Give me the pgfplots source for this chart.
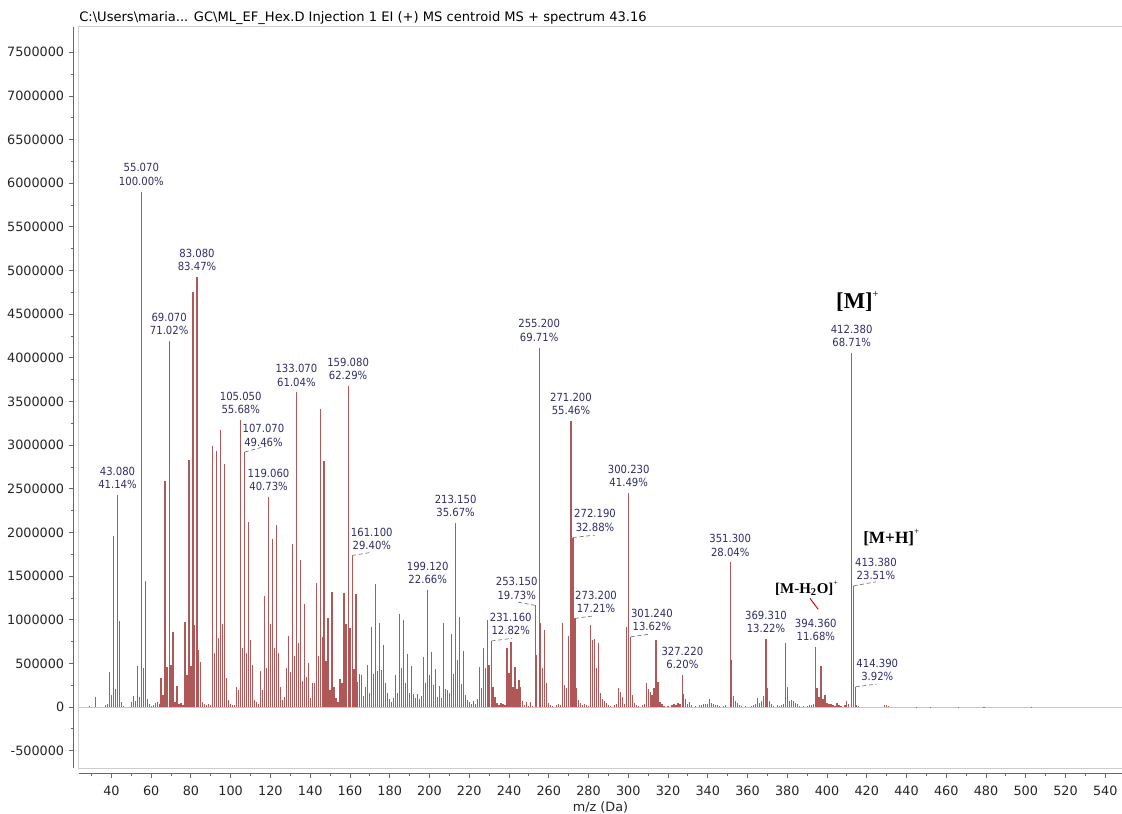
\documentclass[border=0pt]{standalone}
\usepackage{pgfplots}
\usepackage{pgfplotstable}
\pgfplotsset{compat=1.18}
\usepackage{fontspec}
\setmainfont{DejaVu Sans}
\newfontfamily\condfont{DejaVu Sans Condensed}
\newfontfamily\annfont{Liberation Serif}

\definecolor{peak}{RGB}{176,88,88}
\definecolor{lblc}{RGB}{46,46,108}
\definecolor{axisgray}{RGB}{105,105,105}
\definecolor{boxgray}{RGB}{205,205,205}
\definecolor{leader}{RGB}{110,110,140}

% centroid spectrum: m/z and abundance
\pgfplotstableread{
mz ab
29 15000
32 118000
37 20000
38 30000
39 405000
40 140000
41 1955000
42 210000
43.08 2429000
44 983000
45 55000
46 15000
50 60000
51 130000
52 70000
53 470000
54 120000
55.07 5905000
56 444000
57 1446000
58 90000
59 30000
60 15000
61 20000
62 50000
63 60000
64 40000
65 330000
66 140000
67 2586000
68 460000
69.07 4194000
70 482000
71 860000
72 60000
73 245000
74 40000
75 45000
76 20000
77 975000
78 363000
79 2831000
80 470000
81 4750000
82 940000
83.08 4929000
84 654000
85 520000
86 60000
87 30000
88 20000
89 40000
90 20000
91 2986000
92 616000
93 2930000
94 792000
95 3168000
96 949000
97 2789000
98 337000
99 80000
100 30000
101 25000
102 20000
103 233000
104 195000
105.05 3288000
106 673000
107.07 2921000
108 616000
109 2120000
110 770000
111 482000
112 80000
113 60000
114 30000
115 417000
116 195000
117 1274000
118 450000
119.06 2405000
120 956000
121 1924000
122 673000
123 2089000
124 616000
125 233000
126 80000
127 118000
128 444000
129 815000
130 405000
131 1863000
132 590000
133.07 3604000
134 738000
135 1683000
136 302000
137 1178000
138 348000
139 509000
140 107000
141 280000
142 280000
143 1419000
144 585000
145 3409000
146 807000
147 2816000
148 524000
149 1025000
150 195000
151 1316000
152 226000
153 100000
154 60000
155 318000
156 272000
157 1301000
158 953000
159.08 3678000
160 903000
161.1 1736000
162 440000
163 1297000
164 291000
165 379000
166 363000
167 126000
168 226000
169 482000
170 165000
171 922000
172 375000
173 1412000
174 413000
175 968000
176 425000
177 708000
178 275000
179 157000
180 92000
181 61000
182 100000
183 363000
184 165000
185 1067000
186 444000
187 999000
188 272000
189 612000
190 157000
191 470000
192 145000
193 100000
194 145000
195 88000
196 126000
197 570000
198 272000
199.12 1338000
200 367000
201 627000
202 253000
203 432000
204 118000
205 245000
206 107000
207 960000
208 210000
209 195000
210 157000
211 834000
212 379000
213.15 2106000
214 543000
215 1033000
216 268000
217 643000
218 141000
219 80000
220 61000
221 34000
222 69000
223 30000
224 88000
225 455000
226 222000
227 677000
228 444000
229 1002000
230 482000
231.16 757000
232 226000
233 118000
234 50000
235 20000
236 42000
237 34000
238 20000
239 673000
240 394000
241 740000
242 233000
243 463000
244 210000
245 310000
246 226000
247 69000
248 20000
249 54000
250 15000
251 54000
252 15000
253.15 1165000
254 593000
255.2 4116000
256 960000
257 450000
258 884000
259 280000
260 50000
261 20000
262 15000
264 20000
265 40000
266 20000
267 967000
268 252000
269 214000
270 810000
271.2 3275000
272.19 1942000
273.2 1016000
274 214000
275 80000
276 50000
277 20000
278 30000
279 20000
280 15000
281 937000
282 768000
283 776000
284 443000
285 730000
286 157000
287 88000
288 69000
289 42000
290 20000
291 15000
293 20000
294 30000
295 214000
296 176000
297 118000
298 40000
299 914000
300.23 2450000
301.24 804000
302 138000
303 50000
304 20000
305 15000
307 20000
308 30000
309 271000
310 203000
311 176000
312 138000
313 214000
314 768000
315 290000
316 60000
317 30000
318 15000
320 15000
322 20000
323 34000
324 20000
325 42000
326 30000
327.22 366000
328 149000
329 96000
330 40000
331 57000
332 20000
334 15000
336 20000
337 25000
338 30000
339 35000
340 40000
341 88000
342 42000
343 34000
344 25000
345 20000
346 15000
348 15000
349 20000
351.3 1656000
352 539000
353 126000
354 73000
355 42000
356 20000
357 15000
359 10000
362 15000
363 20000
364 40000
365 99000
366 50000
367 73000
368 126000
369.31 781000
370 214000
371 73000
372 30000
373 15000
375 20000
376 15000
377 20000
378 30000
379 738000
380 233000
381 73000
382 80000
383 73000
384 42000
385 30000
386 15000
388 15000
390 15000
391 20000
392 25000
393 40000
394.36 690000
395 214000
396 118000
397 470000
398 88000
399 134000
400 50000
401 30000
402 34000
403 20000
404 15000
405 42000
406 20000
407 10000
409 20000
410 73000
411 30000
412.38 4057000
413.38 1388000
414.39 231000
415 23000
416 10000
429 20000
430 18000
431 10000
445 5000
452 6000
466 5000
479 5000
503 6000
}\spec

\tikzset{
  plbl/.style={anchor=south, inner sep=0pt, yshift=4.5pt, align=center,
    font=\condfont\fontsize{8.4}{10}\selectfont, text=lblc},
  olbl/.style={anchor=center, inner sep=0pt, align=center,
    font=\condfont\fontsize{8.4}{10}\selectfont, text=lblc},
  lead/.style={draw=leader, densely dashed, line width=0.5pt},
}
% label sitting directly above a peak
\newcommand{\pl}[4]{\node[plbl] at (axis cs:#1,#2) {#3\\#4};}

\begin{document}
\begin{tikzpicture}
\begin{axis}[
  name=ms,
  scale only axis,
  width=782.25pt, height=556pt,
  xmin=23.7, xmax=548.4,
  ymin=-702000, ymax=7790000,
  clip=false,
  axis lines*=left,
  axis line style={draw=axisgray, line width=0.75pt, -},
  axis x line shift=3.75pt,
  axis y line shift=4pt,
  tick align=outside,
  xtick={40,60,...,540},
  minor xtick={30,50,...,530},
  ytick={-500000,0,...,7500000},
  yticklabels={-500000,0,500000,1000000,1500000,2000000,2500000,3000000,3500000,4000000,4500000,5000000,5500000,6000000,6500000,7000000,7500000},
  minor ytick={-250000,250000,...,7250000},
  major tick length=3.6pt, minor tick length=2.3pt,
  tick style={draw=axisgray, line width=0.65pt},
  every tick label/.append style={font=\fontsize{9.6}{11}\selectfont, text=black!85},
  xticklabel style={yshift=-2.2pt},
  /pgf/number format/assume math mode=true,
  scaled y ticks=false,
  xlabel={m/z (Da)},
  xlabel style={font=\fontsize{9.6}{11}\selectfont, text=black!85, inner sep=0pt, yshift=-1pt},
]
\draw[boxgray, line width=0.75pt] (rel axis cs:0,0) rectangle (rel axis cs:1,1);
\addplot[draw=black!22, line width=0.6pt] coordinates {(23.7,0) (548.4,0)};
\addplot[ycomb, draw=peak, line width=0.9pt, mark=none] table[x=mz, y=ab] {\spec};

\pl{43.08}{2429000}{43.080}{41.14\%}
\pl{55.07}{5905000}{55.070}{100.00\%}
\pl{69.07}{4194000}{69.070}{71.02\%}
\pl{83.08}{4929000}{83.080}{83.47\%}
\pl{105.05}{3288000}{105.050}{55.68\%}
\pl{119.06}{2405000}{119.060}{40.73\%}
\pl{133.07}{3604000}{133.070}{61.04\%}
\pl{159.08}{3678000}{159.080}{62.29\%}
\pl{199.12}{1338000}{199.120}{22.66\%}
\pl{213.15}{2106000}{213.150}{35.67\%}
\pl{255.2}{4116000}{255.200}{69.71\%}
\pl{271.2}{3275000}{271.200}{55.46\%}
\pl{300.23}{2450000}{300.230}{41.49\%}
\pl{327.22}{366000}{327.220}{6.20\%}
\pl{351.3}{1656000}{351.300}{28.04\%}
\pl{369.31}{781000}{369.310}{13.22\%}
\pl{394.36}{690000}{394.360}{11.68\%}
\pl{412.38}{4057000}{412.380}{68.71\%}

\node[olbl] at (axis cs:116.5,3113000) {107.070\\49.46\%};
\draw[lead] (axis cs:107.07,2921000) -- (axis cs:117.8,2990000);
\node[olbl] at (axis cs:171.0,1926000) {161.100\\29.40\%};
\draw[lead] (axis cs:161.1,1736000) -- (axis cs:170.6,1772000);
\node[olbl] at (axis cs:240.9,951000) {231.160\\12.82\%};
\draw[lead] (axis cs:231.16,757000) -- (axis cs:241.4,787000);
\node[olbl] at (axis cs:243.9,1360000) {253.150\\19.73\%};
\draw[lead] (axis cs:253.15,1165000) -- (axis cs:243.6,1206000);
\node[olbl] at (axis cs:283.3,2139000) {272.190\\32.88\%};
\draw[lead] (axis cs:272.19,1942000) -- (axis cs:283.3,1970000);
\node[olbl] at (axis cs:283.8,1206000) {273.200\\17.21\%};
\draw[lead] (axis cs:273.2,1016000) -- (axis cs:283.3,1046000);
\node[olbl] at (axis cs:311.9,997000) {301.240\\13.62\%};
\draw[lead] (axis cs:301.24,804000) -- (axis cs:310.9,836000);
\node[olbl] at (axis cs:424.6,1581000) {413.380\\23.51\%};
\draw[lead] (axis cs:413.38,1388000) -- (axis cs:424.6,1435000);
\node[olbl] at (axis cs:425.3,424000) {414.390\\3.92\%};
\draw[lead] (axis cs:414.39,231000) -- (axis cs:424.9,263000);

\node[anchor=west, inner sep=0pt] at (axis cs:404.5,4643000)
  {\annfont\fontsize{17}{20}\selectfont\bfseries [M]\raisebox{0.5em}{\fontsize{8}{8}\selectfont\mdseries +}};
\node[anchor=west, inner sep=0pt] at (axis cs:418.1,1944000)
  {\annfont\fontsize{12.9}{15}\selectfont\bfseries [M+H]\raisebox{0.5em}{\fontsize{7}{7}\selectfont\mdseries +}};
\node[anchor=west, inner sep=0pt] at (axis cs:373.8,1360000)
  {\annfont\fontsize{11.2}{13}\selectfont\bfseries [M-H\textsubscript{2}O]\raisebox{0.5em}{\fontsize{6}{6}\selectfont\mdseries +}};
\draw[red!80!black, line width=0.7pt] (axis cs:391.4,1245000) -- (axis cs:395.6,1119000);
\end{axis}

\node[anchor=base west, inner sep=0pt, font=\fontsize{9.8}{11}\selectfont]
  at ([yshift=4.2pt]ms.north west)
  {C:\textbackslash Users\textbackslash maria... GC\textbackslash ML\_EF\_Hex.D Injection 1 EI (+) MS centroid MS + spectrum 43.16};

\pgfresetboundingbox
\path[use as bounding box] ([xshift=-59.25pt,yshift=-33.5pt]ms.south west) rectangle ([yshift=20.25pt]ms.north east);
\end{tikzpicture}
\end{document}
